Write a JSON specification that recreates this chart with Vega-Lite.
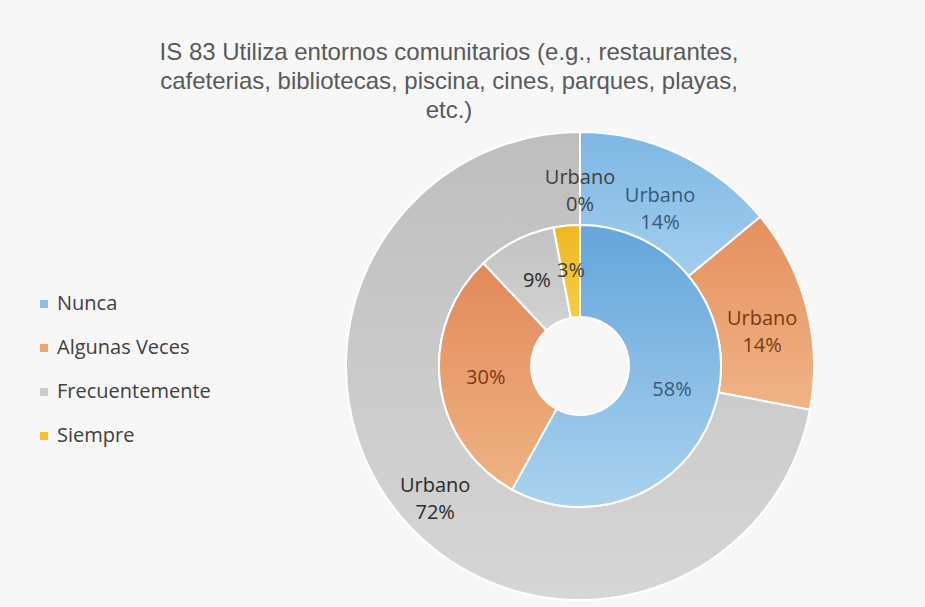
{
  "$schema": "https://vega.github.io/schema/vega-lite/v6.json",
  "autosize": "none",
  "width": 690,
  "height": 482,
  "padding": {"left": 235, "top": 125, "right": 0, "bottom": 0},
  "background": "#f7f7f7",
  "config": {"view": {"stroke": null}},
  "title": {
    "text": ["IS 83 Utiliza entornos comunitarios (e.g., restaurantes,", "cafeterias, bibliotecas, piscina, cines, parques, playas,", "etc.)"],
    "font": "Liberation Sans",
    "fontSize": 24,
    "fontWeight": "normal",
    "color": "#595959",
    "lineHeight": 29,
    "anchor": "middle",
    "dx": -131,
    "offset": 2
  },
  "data": {
    "values": [
      {"ring": "outer", "cat": "Nunca", "k": 1, "v": 14, "label": "Urbano\n14%"},
      {"ring": "outer", "cat": "Algunas Veces", "k": 2, "v": 14, "label": "Urbano\n14%"},
      {"ring": "outer", "cat": "Frecuentemente", "k": 3, "v": 72, "label": "Urbano\n72%"},
      {"ring": "outer", "cat": "Siempre", "k": 4, "v": 0, "label": "Urbano\n0%"},
      {"ring": "inner", "cat": "Nunca", "k": 1, "v": 58, "label": "58%"},
      {"ring": "inner", "cat": "Algunas Veces", "k": 2, "v": 30, "label": "30%"},
      {"ring": "inner", "cat": "Frecuentemente", "k": 3, "v": 9, "label": "9%"},
      {"ring": "inner", "cat": "Siempre", "k": 4, "v": 3, "label": "3%"}
    ]
  },
  "layer": [
    {
      "mark": {"type": "arc", "outerRadius": 141, "innerRadius": 49, "stroke": "white", "strokeWidth": 2},
      "transform": [{"filter": "datum.ring === 'inner'"}],
      "encoding": {
        "theta": {"field": "v", "type": "quantitative", "stack": true},
        "order": {"field": "k", "type": "quantitative"},
        "fill": {
          "field": "cat", "type": "nominal",
          "scale": {"domain": ["Nunca", "Algunas Veces", "Frecuentemente", "Siempre"], "range": ["#8ac0e8", "#eba473", "#cbcbcb", "#f2c030"]},
          "legend": {
            "orient": "none", "legendX": -201, "legendY": 169, "title": null, "padding": 0,
            "symbolType": "square", "symbolSize": 64, "symbolStrokeWidth": 0,
            "labelFontSize": 20, "labelFont": "Open Sans", "labelColor": "#404040",
            "rowPadding": 24, "labelOffset": 3
          }
        }
      }
    },
    {
      "transform": [{"filter": "datum.ring === 'outer'"}],
      "mark": {"type": "arc", "outerRadius": 234, "innerRadius": 141, "stroke": "white", "strokeWidth": 2},
      "encoding": {
        "theta": {"field": "v", "type": "quantitative", "stack": true},
        "order": {"field": "k", "type": "quantitative"},
        "fill": {
          "condition": [
            {"test": "datum.cat === 'Nunca'", "value": {"gradient": "linear", "x1": 0, "y1": 0, "x2": 0, "y2": 1, "stops": [{"offset": 0, "color": "#7db7e3"}, {"offset": 1, "color": "#a2ceee"}]}},
            {"test": "datum.cat === 'Algunas Veces'", "value": {"gradient": "linear", "x1": 0, "y1": 0, "x2": 0, "y2": 1, "stops": [{"offset": 0, "color": "#e58f5e"}, {"offset": 1, "color": "#f0b486"}]}},
            {"test": "datum.cat === 'Frecuentemente'", "value": {"gradient": "linear", "x1": 0, "y1": 0, "x2": 0, "y2": 1, "stops": [{"offset": 0, "color": "#bebebe"}, {"offset": 1, "color": "#d6d6d6"}]}}
          ],
          "value": "#f2c030"
        }
      }
    },
    {
      "transform": [{"filter": "datum.ring === 'inner'"}],
      "mark": {"type": "arc", "outerRadius": 141, "innerRadius": 49, "stroke": "white", "strokeWidth": 2},
      "encoding": {
        "theta": {"field": "v", "type": "quantitative", "stack": true},
        "order": {"field": "k", "type": "quantitative"},
        "fill": {
          "condition": [
            {"test": "datum.cat === 'Nunca'", "value": {"gradient": "linear", "x1": 0, "y1": 0, "x2": 0, "y2": 1, "stops": [{"offset": 0, "color": "#64a5da"}, {"offset": 1, "color": "#aad2ef"}]}},
            {"test": "datum.cat === 'Algunas Veces'", "value": {"gradient": "linear", "x1": 0, "y1": 0, "x2": 0, "y2": 1, "stops": [{"offset": 0, "color": "#e2895a"}, {"offset": 1, "color": "#efb383"}]}},
            {"test": "datum.cat === 'Frecuentemente'", "value": {"gradient": "linear", "x1": 0, "y1": 0, "x2": 0, "y2": 1, "stops": [{"offset": 0, "color": "#c2c2c2"}, {"offset": 1, "color": "#d2d2d2"}]}}
          ],
          "value": {"gradient": "linear", "x1": 0, "y1": 0, "x2": 0, "y2": 1, "stops": [{"offset": 0, "color": "#f0b81f"}, {"offset": 1, "color": "#f5cb4a"}]}
        }
      }
    },
    {
      "transform": [{"filter": "datum.ring === 'outer'"}],
      "mark": {"type": "text", "radius": 188, "lineBreak": "\n", "font": "Open Sans", "fontSize": 20, "lineHeight": 27},
      "encoding": {
        "theta": {"field": "v", "type": "quantitative", "stack": true},
        "order": {"field": "k", "type": "quantitative"},
        "color": {
          "field": "cat", "type": "nominal",
          "scale": {"domain": ["Nunca", "Algunas Veces", "Frecuentemente", "Siempre"], "range": ["#35597c", "#7a3a14", "#2b2b2b", "#404040"]},
          "legend": null
        },
        "text": {"field": "label", "type": "nominal"}
      }
    },
    {
      "transform": [{"filter": "datum.ring === 'inner'"}],
      "mark": {"type": "text", "radius": 95, "font": "Open Sans", "fontSize": 20},
      "encoding": {
        "theta": {"field": "v", "type": "quantitative", "stack": true},
        "order": {"field": "k", "type": "quantitative"},
        "color": {"field": "cat", "type": "nominal", "legend": null},
        "text": {"field": "label", "type": "nominal"}
      }
    }
  ]
}
